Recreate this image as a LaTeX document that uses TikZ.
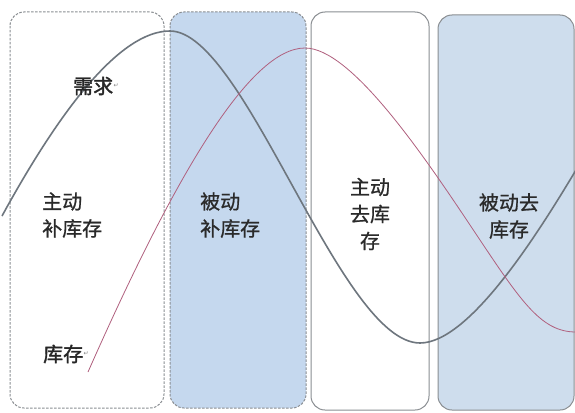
\documentclass[tikz,border=0pt]{standalone}
\usepackage{fontspec}
\newfontfamily\cjk[FakeBold=0.8]{Noto Sans CJK SC}
\newfontfamily\cjkheavy[FakeBold=1.6]{Noto Sans CJK SC}
\newfontfamily\symb{DejaVu Sans}
\definecolor{boxline}{HTML}{8A8E92}
\definecolor{bluefillA}{HTML}{C5D8EE}
\definecolor{bluefillB}{HTML}{CEDDED}
\definecolor{demandcol}{HTML}{6E767E}
\definecolor{stockcol}{HTML}{B0607E}
\definecolor{txt}{HTML}{2A2A2A}
\tikzset{
  phasebox/.style={draw=boxline, line width=1pt, rounded corners=14pt},
  dashbox/.style={phasebox, dash pattern=on 2.5pt off 1.5pt},
  lbl/.style={font=\cjk\fontsize{20}{27}\selectfont, text=txt, inner sep=0pt},
  curvelbl/.style={font=\cjkheavy\fontsize{20}{27}\selectfont, text=black!85, inner sep=0pt},
  retmark/.style={font=\symb\fontsize{6}{6}\selectfont, text=gray, inner sep=0pt},
  demandline/.style={draw=demandcol, line width=1.6pt},
  stockline/.style={draw=stockcol, line width=0.8pt}
}
\begin{document}
\begin{tikzpicture}[x=1pt,y=-1pt]
\useasboundingbox (0,0) rectangle (575,412);
\fill[white] (0,0) rectangle (575,412);
% phase boxes
\draw[dashbox] (10,12) rectangle (164,408);
\draw[dashbox, fill=bluefillA] (170,12) rectangle (306,408);
\draw[phasebox] (311,12) rectangle (429,410);
\draw[phasebox, fill=bluefillB] (438,15) rectangle (574,410);
% demand curve
\draw[demandline] (2,216) .. controls (60,110) and (120,31) .. (170,31)
  .. controls (245,31) and (340,343) .. (420,343)
  .. controls (470,343) and (540,230) .. (576,170);
% inventory curve
\draw[stockline] (88,372) .. controls (175,175) and (250,48) .. (305,48)
  .. controls (350,48) and (420,150) .. (470,225)
  .. controls (520,300) and (540,332) .. (576,332);
% labels
\node[curvelbl, anchor=west] (demand) at (73,86) {需求};
\node[retmark, anchor=west] (demandret) at (demand.east) {↵};
\node[curvelbl, anchor=west] (stock) at (43,354) {库存};
\node[retmark, anchor=west] (stockret) at (stock.east) {↵};
\node[lbl, anchor=west, align=left] (p1) at (42,215) {主动\\补库存};
\node[lbl, anchor=west, align=left] (p2) at (200,215) {被动\\补库存};
\node[lbl, align=center] (p3) at (370,214) {主动\\去库\\存};
\node[lbl, align=center] (p4) at (509,216) {被动去\\库存};
\end{tikzpicture}
\end{document}
